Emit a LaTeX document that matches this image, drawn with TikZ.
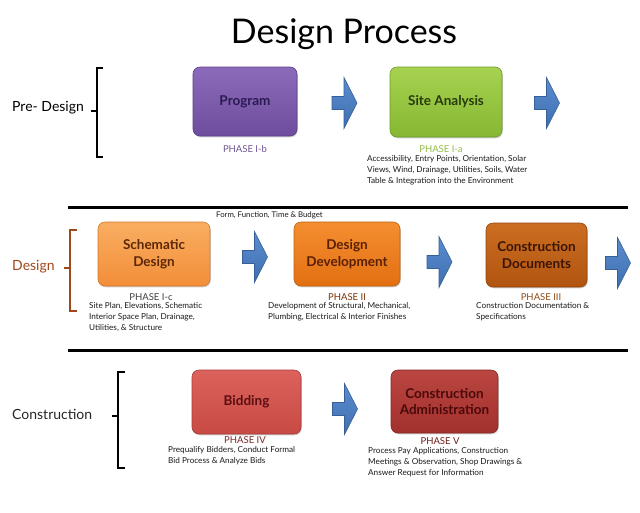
\documentclass[tikz,border=0pt]{standalone}
\usepackage{fontspec}
\setmainfont{Lato}
\usetikzlibrary{shadows}
\definecolor{progtop}{HTML}{8B6BB9}
\definecolor{progbot}{HTML}{6F4D9E}
\definecolor{progedge}{HTML}{5C3F88}
\definecolor{progtxt}{HTML}{2A1A52}
\definecolor{sitetop}{HTML}{A6D250}
\definecolor{sitebot}{HTML}{86B832}
\definecolor{siteedge}{HTML}{6E9A28}
\definecolor{sitetxt}{HTML}{2A3A10}
\definecolor{schtop}{HTML}{FAAE62}
\definecolor{schbot}{HTML}{F28E38}
\definecolor{schedge}{HTML}{D27A2C}
\definecolor{schtxt}{HTML}{5A2808}
\definecolor{ddtop}{HTML}{F48E30}
\definecolor{ddbot}{HTML}{E27012}
\definecolor{ddedge}{HTML}{C0600C}
\definecolor{ddtxt}{HTML}{5A2005}
\definecolor{cdtop}{HTML}{CC6E22}
\definecolor{cdbot}{HTML}{B05410}
\definecolor{cdedge}{HTML}{924410}
\definecolor{cdtxt}{HTML}{3A1505}
\definecolor{bidtop}{HTML}{DC625C}
\definecolor{bidbot}{HTML}{C84A45}
\definecolor{bidedge}{HTML}{A83A36}
\definecolor{bidtxt}{HTML}{5A0E10}
\definecolor{catop}{HTML}{BA4641}
\definecolor{cabot}{HTML}{A2302C}
\definecolor{caedge}{HTML}{862622}
\definecolor{catxt}{HTML}{4A0A0A}
\definecolor{arrtop}{HTML}{5A8DD0}
\definecolor{arrbot}{HTML}{3E6FB0}
\definecolor{arredge}{HTML}{375F95}
\definecolor{designbrown}{HTML}{A0481C}
\definecolor{desctxt}{HTML}{1A1A1A}
\tikzset{
  boxbase/.style={rounded corners=7pt, align=center, line width=0.6pt, inner sep=2pt,
    font=\fontsize{13.5}{16.5}\selectfont\bfseries,
    drop shadow={shadow xshift=0.8pt, shadow yshift=-1.3pt, opacity=0.3, fill=black!60}},
  phaselbl/.style={font=\fontsize{9.5}{11}\selectfont, inner sep=0pt},
  desc/.style={font=\fontsize{8.2}{11}\selectfont, align=left, anchor=north west, inner sep=0pt, text=desctxt},
  grouplbl/.style={font=\fontsize{14}{16}\selectfont, anchor=west, inner sep=0pt},
  bracket/.style={line width=1.4pt},
  sepline/.style={line width=3pt, black},
  pics/barrow/.style={code={
    \path[top color=arrtop, bottom color=arrbot, draw=arredge, line width=0.6pt]
      (-12.5,-6.5) -- (-0.5,-6.5) -- (-0.5,-25.5) -- (12.5,0) -- (-0.5,25.5) -- (-0.5,6.5) -- (-12.5,6.5) -- cycle;}}
}
\begin{document}
\begin{tikzpicture}[x=1pt,y=-1pt]
\useasboundingbox[fill=white] (0,0) rectangle (640,512);

% title
\node[font=\fontsize{34}{38}\selectfont, inner sep=0pt] (title) at (344,34) {Design Process};

% ---------- Pre-Design ----------
\node[grouplbl] (lpre) at (12,108) {Pre- Design};
\coordinate (b1t) at (97,68);
\coordinate (b1b) at (97,157);
\draw[bracket] ([xshift=6pt]b1t) -- (b1t) -- (b1b) -- ([xshift=6pt]b1b);
\draw[bracket] (97,111) -- (91,111);

\node[boxbase, top color=progtop, bottom color=progbot, draw=progedge, text=progtxt,
      minimum width=104pt, minimum height=69pt] (prog) at (245,101.5) {Program};
\node[phaselbl, text=progtop!80!black] (ph1b) at (245,149) {PHASE I-b};

\pic (a1) at (344.5,103) {barrow};

\node[boxbase, top color=sitetop, bottom color=sitebot, draw=siteedge, text=sitetxt,
      minimum width=112pt, minimum height=70pt] (site) at (446,102) {Site Analysis};
\node[phaselbl, text=sitetop!90!black] (ph1a) at (441,149) {PHASE I-a};
\node[desc] (dsite) at (367,155.5) {Accessibility, Entry Points, Orientation, Solar\\
Views, Wind, Drainage, Utilities, Soils, Water\\
Table \& Integration into the Environment};

\pic (a2) at (547,103) {barrow};

\draw[sepline] (68,207) coordinate (l1a) -- (628,207) coordinate (l1b);

% ---------- Design ----------
\node[font=\fontsize{7.8}{9}\selectfont, anchor=west, inner sep=0pt, text=desctxt] (ffb) at (216,215) {Form, Function, Time \& Budget};

\node[grouplbl, text=designbrown] (ldes) at (12,267) {Design};
\coordinate (b2t) at (70,230);
\coordinate (b2b) at (70,311);
\draw[bracket, designbrown] ([xshift=7pt]b2t) -- (b2t) -- (b2b) -- ([xshift=7pt]b2b);
\draw[bracket, designbrown] (70,268) -- (64,268);

\node[boxbase, top color=schtop, bottom color=schbot, draw=schedge, text=schtxt,
      minimum width=112pt, minimum height=64pt] (sch) at (154,254) {Schematic\\Design};
\node[phaselbl, text=black!75] (ph1c) at (151,297) {PHASE I-c};
\node[desc] (dsch) at (89,302) {Site Plan, Elevations, Schematic\\
Interior Space Plan, Drainage,\\
Utilities, \& Structure};

\pic (a3) at (255,257) {barrow};

\node[boxbase, top color=ddtop, bottom color=ddbot, draw=ddedge, text=ddtxt,
      minimum width=106pt, minimum height=64pt] (dd) at (347,254) {Design\\Development};
\node[phaselbl, text=ddtxt!80!orange] (ph2) at (347,297) {PHASE II};
\node[desc] (ddd) at (268,302) {Development of Structural, Mechanical,\\
Plumbing, Electrical \& Interior Finishes};

\pic (a4) at (439.5,262) {barrow};

\node[boxbase, top color=cdtop, bottom color=cdbot, draw=cdedge, text=cdtxt,
      minimum width=101pt, minimum height=64pt] (cd) at (536.5,255) {Construction\\Documents};
\node[phaselbl, text=cdtop!70!black] (ph3) at (541,297) {PHASE III};
\node[desc] (dcd) at (476,302) {Construction Documentation \&\\
Specifications};

\pic (a5) at (618,263) {barrow};

\draw[sepline] (68,350) coordinate (l2a) -- (628,350) coordinate (l2b);

% ---------- Construction ----------
\node[grouplbl, text=black!85] (lcon) at (12,414) {Construction};
\coordinate (b3t) at (118,372);
\coordinate (b3b) at (118,468);
\draw[bracket] ([xshift=7pt]b3t) -- (b3t) -- (b3b) -- ([xshift=7pt]b3b);
\draw[bracket] (118,416) -- (112,416);

\node[boxbase, top color=bidtop, bottom color=bidbot, draw=bidedge, text=bidtxt,
      minimum width=109pt, minimum height=64pt] (bid) at (246.5,402) {Bidding};
\node[phaselbl, text=bidedge!70!black] (ph4) at (245,440) {PHASE IV};
\node[desc] (dbid) at (168,446) {Prequalify Bidders, Conduct Formal\\
Bid Process \& Analyze Bids};

\pic (a6) at (345,409) {barrow};

\node[boxbase, top color=catop, bottom color=cabot, draw=caedge, text=catxt,
      minimum width=107pt, minimum height=63pt] (ca) at (444.5,401.5) {Construction\\Administration};
\node[phaselbl, text=caedge!80!black] (ph5) at (440,441) {PHASE V};
\node[desc] (dca) at (368,447) {Process Pay Applications, Construction\\
Meetings \& Observation, Shop Drawings \&\\
Answer Request for Information};
\end{tikzpicture}
\end{document}
